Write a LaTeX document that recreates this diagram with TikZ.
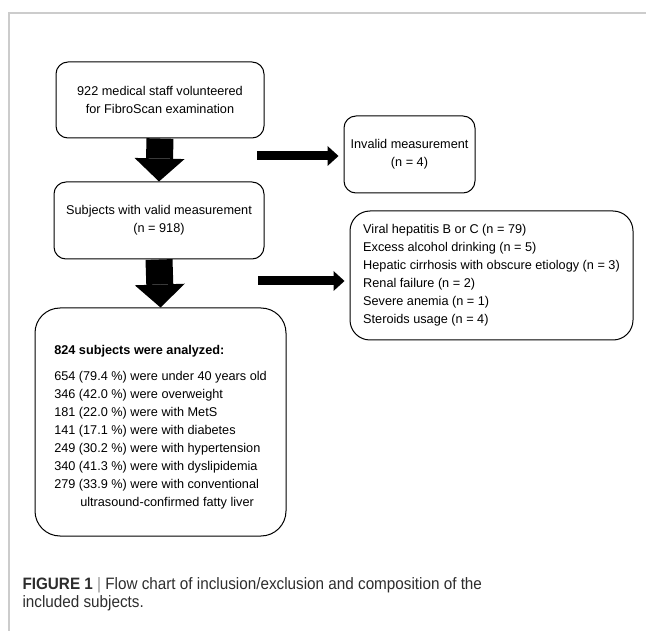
\documentclass[tikz,border=0pt]{standalone}
\usepackage{fontspec}
\setmainfont{Liberation Sans}
\newfontfamily\capfont[FakeStretch=0.925]{Liberation Sans}
\usetikzlibrary{arrows.meta}
\definecolor{framegrey}{RGB}{204,204,204}
\definecolor{capgrey}{RGB}{45,45,45}

\begin{document}
\begin{tikzpicture}[x=1pt,y=-1pt,
    box/.style={draw,line width=1pt,rounded corners=12pt,inner sep=0pt,
      font=\fontsize{12.7}{18}\selectfont},
    downarrow/.style={line width=27pt,
      -{Triangle[line width=0pt,length=23pt,width=50pt]}},
    sidearrow/.style={line width=9pt,shorten >=5pt,
      -{Triangle[line width=0pt,length=11pt,width=20pt]}}]
  \useasboundingbox (0,0) rectangle (646,631);
  \draw[framegrey,line width=1.8pt] (9,631) -- (9,13) -- (646,13);
  % left column
  \node[box,align=center,minimum width=208pt,minimum height=76pt] (staff)
  at (160,100) {922 medical staff volunteered\\for FibroScan examination};
  \node[box,align=center,minimum width=210pt,minimum height=77pt] (valid)
  at (159,220.5) {Subjects with valid measurement\\(n = 918)};
  \node[box,align=left,rounded corners=25pt,minimum width=251pt,
  minimum height=228pt] (analyzed) at (160.5,422)
  {\rule{0pt}{19.5pt}\textbf{824 subjects were analyzed:}\\[8pt]
    654 (79.4 \%) were under 40 years old\\
    346 (42.0 \%) were overweight\\
    181 (22.0 \%) were with MetS\\
    141 (17.1 \%) were with diabetes\\
    249 (30.2 \%) were with hypertension\\
    340 (41.3 \%) were with dyslipidemia\\
    279 (33.9 \%) were with conventional\\
    \hspace*{26pt}ultrasound-confirmed fatty liver};
  % right column
  \node[box,align=center,minimum width=131pt,minimum height=77pt] (invalid)
  at (409.5,154.5) {Invalid measurement\\(n = 4)};
  \node[box,align=left,rounded corners=20pt,minimum width=283pt,
  minimum height=129pt] (excluded) at (491.5,275.5)
  {Viral hepatitis B or C (n = 79)\\
    Excess alcohol drinking (n = 5)\\
    Hepatic cirrhosis with obscure etiology (n = 3)\\
    Renal failure (n = 2)\\
    Severe anemia (n = 1)\\
    Steroids usage (n = 4)};
  % arrows
  \draw[downarrow] (staff.south) -- (valid.north);
  \draw[downarrow] (valid.south) -- (analyzed.north);
  \coordinate (gap1) at (257,156); \coordinate (gap2) at (258,281);
  \draw[sidearrow] (gap1) -- (gap1 -| invalid.west);
  \draw[sidearrow] (gap2) -- (gap2 -| excluded.west);
  % caption
  \node[anchor=base west,align=left,text=capgrey,
  font=\capfont\fontsize{16.5}{18}\selectfont] (caption) at (19,607)
  {\textbf{FIGURE 1} {\color{framegrey!70!black}|} Flow chart of
    inclusion/exclusion and composition of the\\included subjects.};
\end{tikzpicture}
\end{document}
